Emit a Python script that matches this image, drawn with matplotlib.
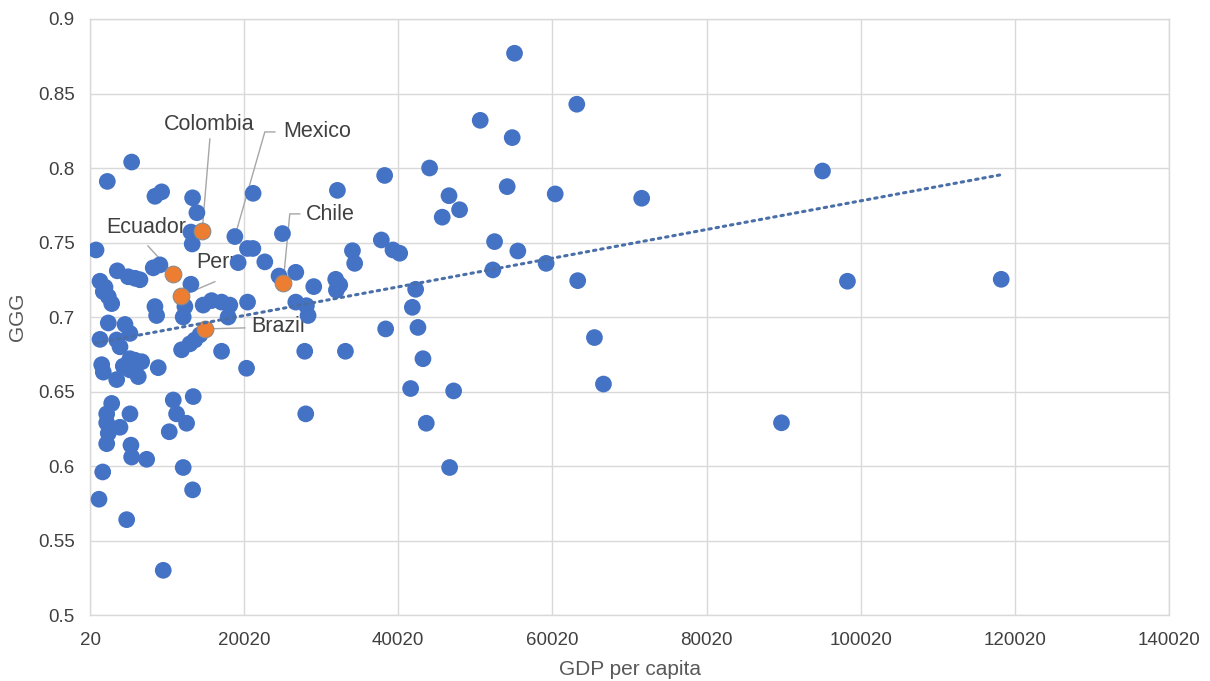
import numpy as np
import matplotlib
matplotlib.use("Agg")
import matplotlib.pyplot as plt

plt.rcParams['font.family'] = ['Liberation Sans', 'DejaVu Sans']

# ---- data: (GDP per capita, GGG) for non-highlighted countries ----
gdp = [5420, 2262, 8444, 9312, 13330, 13887, 13110, 13278, 20450, 21150,
       800, 3560, 4980, 5850, 6500, 8220, 9090, 19240, 13110, 1316,
       1964, 1744, 2392, 2833, 8444, 8660, 12332, 12110, 14700, 15790,
       17090, 18160, 17940, 20460, 2392, 4560, 5204, 1316, 3480, 3908,
       14280, 13630, 12980, 11900, 17090, 20330, 1536, 1744, 3480, 4340,
       5204, 5850, 6720, 6280, 5204, 8870, 27880, 33160, 38380, 2833,
       2184, 2184, 2392, 2184, 3908, 5204, 10820, 11250, 12550, 13410,
       10300, 5330, 5420, 7370, 28010, 1666, 12110, 13330, 1186, 4776,
       9520, 21180, 32120, 38250, 24990, 22700, 24550, 26720, 29050, 31900,
       32420, 31990, 34070, 34360, 37820, 39330, 40200, 26720, 28100, 28310,
       42270, 41840, 42570, 43220, 41620, 55100, 63180, 50650, 54800, 44080,
       46600, 47970, 45720, 54150, 60380, 71600, 52510, 55530, 59200, 52290,
       63300, 65470, 66640, 47200, 43650, 46680, 95060, 98300, 118250, 89740]
ggg = [0.804, 0.791, 0.781, 0.784, 0.780, 0.770, 0.757, 0.749, 0.746, 0.746,
       0.745, 0.731, 0.727, 0.726, 0.725, 0.733, 0.735, 0.7365, 0.722, 0.724,
       0.720, 0.717, 0.7137, 0.709, 0.707, 0.701, 0.707, 0.700, 0.708, 0.711,
       0.710, 0.708, 0.700, 0.710, 0.696, 0.695, 0.689, 0.685, 0.6846, 0.680,
       0.688, 0.6846, 0.682, 0.678, 0.677, 0.6656, 0.668, 0.663, 0.658, 0.667,
       0.672, 0.671, 0.670, 0.660, 0.6645, 0.666, 0.677, 0.677, 0.692, 0.642,
       0.635, 0.629, 0.622, 0.615, 0.626, 0.635, 0.6443, 0.635, 0.6287, 0.6466,
       0.623, 0.614, 0.606, 0.6045, 0.635, 0.596, 0.599, 0.584, 0.5777, 0.564,
       0.530, 0.783, 0.785, 0.795, 0.756, 0.737, 0.7275, 0.730, 0.7204, 0.7253,
       0.7215, 0.718, 0.7445, 0.736, 0.7517, 0.745, 0.7428, 0.710, 0.7076, 0.701,
       0.7186, 0.7065, 0.693, 0.672, 0.652, 0.877, 0.8428, 0.832, 0.8204, 0.800,
       0.7814, 0.772, 0.767, 0.7875, 0.7826, 0.7797, 0.7506, 0.7443, 0.736, 0.7316,
       0.7244, 0.6862, 0.655, 0.6504, 0.6287, 0.599, 0.798, 0.724, 0.7253, 0.629]

# ---- labelled Latin American countries ----
lat_names = ['Colombia', 'Mexico', 'Chile', 'Ecuador', 'Peru', 'Brazil']
lat_gdp = [14574, 18812, 25070, 10820, 11814, 14920]
lat_ggg = [0.758, 0.754, 0.7226, 0.729, 0.714, 0.692]
lat_orange = [True, False, True, True, True, True]

x_ticks = [20, 20020, 40020, 60020, 80020, 100020, 120020, 140020]
y_ticks = [0.5, 0.55, 0.6, 0.65, 0.7, 0.75, 0.8, 0.85, 0.9]
y_tick_labels = ['0.5', '0.55', '0.6', '0.65', '0.7', '0.75', '0.8', '0.85', '0.9']

BLUE = '#4472C4'
ORANGE = '#ED7D31'
GRID = '#D9D9D9'
TXT = '#404040'

fig = plt.figure(figsize=(12.1, 6.81), dpi=100)
ax = fig.add_axes([0.0744, 0.0969, 0.8917, 0.8752])

ax.set_xlim(x_ticks[0], x_ticks[-1])
ax.set_ylim(y_ticks[0], y_ticks[-1])
ax.set_xticks(x_ticks)
ax.set_xticklabels([str(v) for v in x_ticks])
ax.set_yticks(y_ticks)
ax.set_yticklabels(y_tick_labels)
ax.tick_params(axis='x', length=0, labelsize=13.5, labelcolor=TXT, pad=12)
ax.tick_params(axis='y', length=0, labelsize=13.5, labelcolor=TXT, pad=11)
ax.grid(True, color=GRID, linewidth=1)
ax.set_axisbelow(True)
for s in ax.spines.values():
    s.set_color(GRID)
    s.set_linewidth(1)

# points
MS = 145
ax.scatter(gdp, ggg, s=MS, color=BLUE, edgecolors='none', zorder=3)
og = [g for g, o in zip(lat_gdp, lat_orange) if o]
oy = [v for v, o in zip(lat_ggg, lat_orange) if o]
bg = [g for g, o in zip(lat_gdp, lat_orange) if not o]
by = [v for v, o in zip(lat_ggg, lat_orange) if not o]
ax.scatter(bg, by, s=MS, color=BLUE, edgecolors='none', zorder=3)
ax.scatter(og, oy, s=MS, color=ORANGE, edgecolors='#8c8c8c', linewidths=0.8, zorder=4)

# linear trendline over all points
all_x = np.array(gdp + lat_gdp, dtype=float)
all_y = np.array(ggg + lat_ggg, dtype=float)
k, b = np.polyfit(all_x, all_y, 1)
tx = np.array([all_x.min(), all_x.max()])
ax.plot(tx, k * tx + b, color='#4A6FA8', linewidth=2.2,
        linestyle=(0, (0.8, 1.6)), dash_capstyle='round', zorder=5)

# labels with leader lines (positions are layout)
lab_text = {
    'Colombia': (15442, 0.829, 'center'),
    'Mexico': (25030, 0.8245, 'left'),
    'Chile': (28010, 0.7685, 'left'),
    'Ecuador': (7368, 0.7604, 'center'),
    'Peru': (16738, 0.7366, 'center'),
    'Brazil': (20976, 0.6937, 'left'),
}
lab_path = {
    'Colombia': [(15570, 0.8195)],
    'Mexico': [(22700, 0.8242), (24000, 0.8242)],
    'Chile': [(25940, 0.7692), (27240, 0.7692)],
    'Ecuador': [(7537, 0.7477)],
    'Peru': [(16220, 0.7237)],
    'Brazil': [(20100, 0.6927)],
}
for name, gx, gy in zip(lat_names, lat_gdp, lat_ggg):
    tx_, ty_, ha = lab_text[name]
    path = [(gx, gy)] + lab_path[name]
    ax.plot([p[0] for p in path], [p[1] for p in path], color='#A6A6A6',
            linewidth=1, zorder=2.6)
    ax.text(tx_, ty_, name, ha=ha, va='center', fontsize=15.5, color=TXT, zorder=2.7)

ax.set_xlabel('GDP per capita', fontsize=15, color='#595959', labelpad=8)
ax.set_ylabel('GGG', fontsize=15, color='#595959', labelpad=8)

fig.savefig('out.png', dpi=100)
